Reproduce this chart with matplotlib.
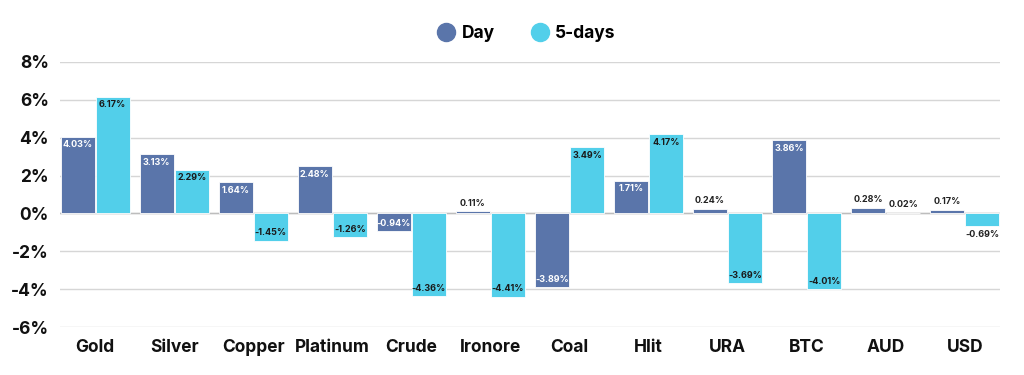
import numpy as np
import matplotlib.pyplot as plt
from matplotlib.ticker import FuncFormatter

categories = ['Gold', 'Silver', 'Copper', 'Platinum', 'Crude', 'Ironore',
              'Coal', 'Hlit', 'URA', 'BTC', 'AUD', 'USD']
day = [4.03, 3.13, 1.64, 2.48, -0.94, 0.11, -3.89, 1.71, 0.24, 3.86, 0.28, 0.17]
five_days = [6.17, 2.29, -1.45, -1.26, -4.36, -4.41, 3.49, 4.17, -3.69, -4.01, 0.02, -0.69]
y_ticks = [-6, -4, -2, 0, 2, 4, 6, 8]

day_color = '#5a75aa'
five_color = '#52cfea'

plt.rcParams['font.family'] = ['Inter', 'DejaVu Sans']

fig = plt.figure(figsize=(10.24, 3.75), dpi=100)
ax = fig.add_axes([0.0586, 0.128, 0.918, 0.707])

x = np.arange(len(categories))
w = 0.43
off = 0.222

b1 = ax.bar(x - off, day, w, color=day_color, edgecolor='white', linewidth=0.6,
            label='Day', zorder=3)
b2 = ax.bar(x + off, five_days, w, color=five_color, edgecolor='white', linewidth=0.6,
            label='5-days', zorder=3)


# value labels: inside near the end of the bar, outside when the bar is short
def label_bars(bars, vals, inside_color):
    for bar, v in zip(bars, vals):
        cx = bar.get_x() + bar.get_width() / 2
        txt = '%.2f%%' % v
        if abs(v) >= 0.8:
            if v > 0:
                ax.text(cx, v - 0.18, txt, ha='center', va='top', fontsize=6.5,
                        fontweight='bold', color=inside_color, zorder=4)
            else:
                ax.text(cx, v + 0.18, txt, ha='center', va='bottom', fontsize=6.5,
                        fontweight='bold', color=inside_color, zorder=4)
        else:
            if v >= 0:
                ax.text(cx, v + 0.2, txt, ha='center', va='bottom', fontsize=6.5,
                        fontweight='bold', color='#222222', zorder=4)
            else:
                ax.text(cx, v - 0.2, txt, ha='center', va='top', fontsize=6.5,
                        fontweight='bold', color='#222222', zorder=4)


label_bars(b1, day, 'white')
label_bars(b2, five_days, '#1a1a1a')

ax.set_xlim(-0.445, len(categories) - 1 + 0.445)
ax.set_ylim(-6, 8)
ax.set_yticks(y_ticks)
ax.yaxis.set_major_formatter(FuncFormatter(lambda v, p: '%d%%' % v))
ax.set_xticks(x)
ax.set_xticklabels(categories)
ax.tick_params(axis='both', length=0, labelsize=12.5, colors='#111111')
ax.tick_params(axis='x', pad=9)
ax.tick_params(axis='y', pad=8)
for lab in ax.get_xticklabels() + ax.get_yticklabels():
    lab.set_fontweight('bold')

ax.grid(axis='y', color='#d6d6d6', linewidth=1, zorder=0)
ax.axhline(0, color='#bdbdbd', linewidth=1, zorder=2)
for s in ax.spines.values():
    s.set_visible(False)

# round markers for the legend
legend_handles = [plt.Line2D([], [], marker='o', linestyle='', markersize=13, color=day_color),
                  plt.Line2D([], [], marker='o', linestyle='', markersize=13, color=five_color)]
fig.legend(handles=legend_handles, labels=['Day', '5-days'], loc='center',
           bbox_to_anchor=(0.515, 0.91), ncol=2, frameon=False,
           prop={'weight': 'bold', 'size': 12.5}, handlelength=0.8,
           columnspacing=2.2, handletextpad=0.5)

fig.savefig('out.png', dpi=100, facecolor='white')
